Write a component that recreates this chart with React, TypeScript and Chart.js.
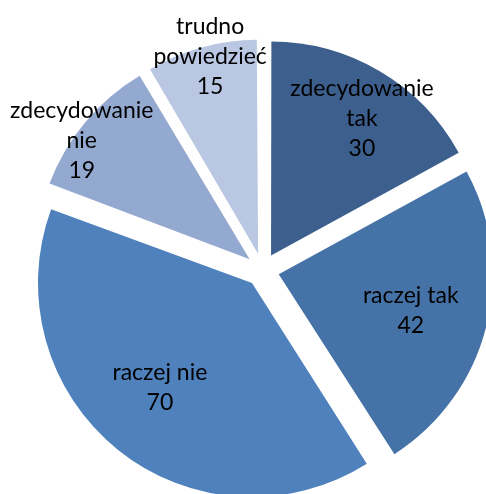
import React, { useEffect, useRef } from "react";
import { Chart, registerables } from "chart.js";

Chart.register(...registerables);

const categories: string[][] = [
  ["zdecydowanie", "tak"],
  ["raczej tak"],
  ["raczej nie"],
  ["zdecydowanie", "nie"],
  ["trudno", "powiedzieć"],
];
const values: number[] = [30, 42, 70, 19, 15];
const colors: string[] = ["#3C5F8D", "#4673A7", "#4F81BD", "#94A9D0", "#B9C7E2"];

// label placement: fraction of radius and angle tweak (degrees)
const labelDist: number[] = [0.77, 0.64, 0.65, 0.96, 0.95];
const labelAngle: number[] = [2.8, 1.1, 2.6, -4.7, 1.7];

const RADIUS = 214;
const OFFSET = 67;
const FONT = "23px Lato";
const LINE_H = 30;

const radiusFix = {
  id: "radiusFix",
  afterDatasetsUpdate(chart: any) {
    const meta = chart.getDatasetMeta(0);
    meta.data.forEach((el: any) => {
      const c = el.circumference;
      const fix = 1 - Math.sin(Math.min(Math.PI, c || 0));
      el.outerRadius = RADIUS - (OFFSET / 4) * fix;
    });
  },
};

const sliceLabels = {
  id: "sliceLabels",
  afterDatasetsDraw(chart: any) {
    const ctx = chart.ctx;
    const meta = chart.getDatasetMeta(0);
    ctx.save();
    ctx.font = FONT;
    ctx.fillStyle = "#000000";
    ctx.textAlign = "center";
    ctx.textBaseline = "middle";
    meta.data.forEach((el: any, i: number) => {
      const mid = (el.startAngle + el.endAngle) / 2;
      const o = OFFSET / 4;
      const cx = el.x + Math.cos(mid) * o;
      const cy = el.y + Math.sin(mid) * o;
      const a = mid + (labelAngle[i] * Math.PI) / 180;
      const d = labelDist[i] * RADIUS;
      const px = cx + Math.cos(a) * d;
      const py = cy + Math.sin(a) * d;
      const lines = [...categories[i], String(values[i])];
      const top = py - ((lines.length - 1) * LINE_H) / 2;
      lines.forEach((ln, k) => ctx.fillText(ln, px, top + k * LINE_H));
    });
    ctx.restore();
  },
};

export default function App() {
  const ref = useRef<HTMLCanvasElement>(null);
  useEffect(() => {
    if (!ref.current) return;
    const chart = new Chart(ref.current, {
      type: "pie",
      data: {
        labels: categories,
        datasets: [
          {
            data: values,
            backgroundColor: colors,
            borderWidth: 0,
            offset: OFFSET,
          },
        ],
      },
      options: {
        responsive: false,
        animation: false,
        devicePixelRatio: 1,
        radius: RADIUS,
        layout: { padding: { left: 39, top: 46, right: 0, bottom: 0 } },
        plugins: { legend: { display: false }, tooltip: { enabled: false } },
      } as any,
      plugins: [radiusFix, sliceLabels],
    });
    return () => chart.destroy();
  }, []);
  return (
    <div style={{ position: "fixed", left: 0, top: 0, width: 486, height: 494, background: "#fff" }}>
      <canvas ref={ref} width={486} height={494} style={{ display: "block" }} />
    </div>
  );
}
